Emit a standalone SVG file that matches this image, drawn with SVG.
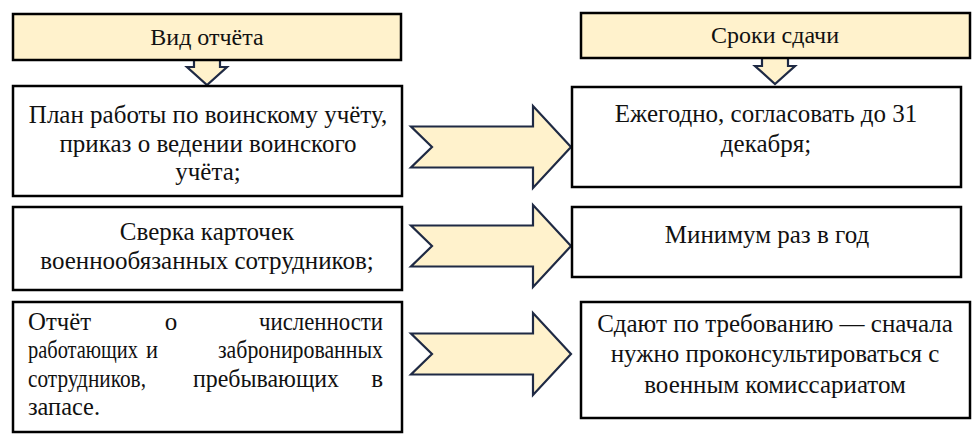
<svg xmlns="http://www.w3.org/2000/svg" width="978" height="437" viewBox="0 0 978 437">
<defs>
<style>
.hdr{fill:#FFF2CC;stroke:#000;stroke-width:2.5}
.box{fill:#fff;stroke:#000;stroke-width:2.5}
.arr{fill:#FFF2CC;stroke:#1F2A44;stroke-width:2.2;stroke-linejoin:miter}
text{font-family:'Liberation Serif','Times New Roman',serif;fill:#111;font-size:25px}
text.h{font-size:24px}
.c{text-anchor:middle}
.e{text-anchor:end}
</style>
</defs>
<rect width="978" height="437" fill="#fff"/>
<g id="connectors">
<path class="arr" d="M194,60 L220,60 L220,67 L227,67 L207,85 L187,67 L194,67 Z"/>
<path class="arr" d="M762,58 L788,58 L788,66 L795,66 L775,84 L755,66 L762,66 Z"/>
<path class="arr" d="M411,126.5 L533,126.5 L533,106 L571,147 L533,188 L533,167.5 L411,167.5 L432,147 Z"/>
<path class="arr" d="M411,225.5 L533,225.5 L533,205 L571,246 L533,287 L533,266.5 L411,266.5 L432,246 Z"/>
<path class="arr" d="M411,333.5 L533,333.5 L533,313 L571,354 L533,395 L533,374.5 L411,374.5 L432,354 Z"/>
</g>
<g id="hdr-left">
<rect class="hdr" x="13" y="14" width="388" height="46"/>
<text class="h c" x="207" y="45">Вид отчёта</text>
</g>
<g id="hdr-right">
<rect class="hdr" x="581" y="13" width="389" height="45"/>
<text class="h c" x="775" y="43">Сроки сдачи</text>
</g>
<g id="left1">
<rect class="box" x="13" y="86" width="389" height="110"/>
<text class="c" x="208" y="123">План работы по воинскому учёту,</text>
<text class="c" x="208" y="152">приказ о ведении воинского</text>
<text class="c" x="208" y="180">учёта;</text>
</g>
<g id="left2">
<rect class="box" x="13" y="207" width="389" height="83"/>
<text class="c" x="207" y="240">Сверка карточек</text>
<text class="c" x="207" y="269">военнообязанных сотрудников;</text>
</g>
<g id="left3">
<rect class="box" x="13" y="302" width="389" height="130"/>
<text x="28" y="330" textLength="63" lengthAdjust="spacingAndGlyphs">Отчёт</text>
<text class="c" x="171" y="330">о</text>
<text class="e" x="383" y="330" textLength="124" lengthAdjust="spacingAndGlyphs">численности</text>
<text x="28" y="358" textLength="110" lengthAdjust="spacingAndGlyphs">работающих</text>
<text class="c" x="152" y="358" textLength="12" lengthAdjust="spacingAndGlyphs">и</text>
<text class="e" x="383" y="358" textLength="165" lengthAdjust="spacingAndGlyphs">забронированных</text>
<text x="28" y="387" textLength="118" lengthAdjust="spacingAndGlyphs">сотрудников,</text>
<text x="193" y="387" textLength="146" lengthAdjust="spacingAndGlyphs">пребывающих</text>
<text class="e" x="383" y="387">в</text>
<text x="28" y="415" textLength="72" lengthAdjust="spacingAndGlyphs">запасе.</text>
</g>
<g id="right1">
<rect class="box" x="572" y="87" width="389" height="100"/>
<text class="c" x="766" y="122">Ежегодно, согласовать до 31</text>
<text class="c" x="766" y="152">декабря;</text>
</g>
<g id="right2">
<rect class="box" x="572" y="207" width="389" height="70"/>
<text class="c" x="767" y="243">Минимум раз в год</text>
</g>
<g id="right3">
<rect class="box" x="581" y="302" width="389" height="116"/>
<text class="c" x="775" y="332">Сдают по требованию — сначала</text>
<text class="c" x="775" y="362">нужно проконсультироваться с</text>
<text class="c" x="775" y="393">военным комиссариатом</text>
</g>
</svg>
